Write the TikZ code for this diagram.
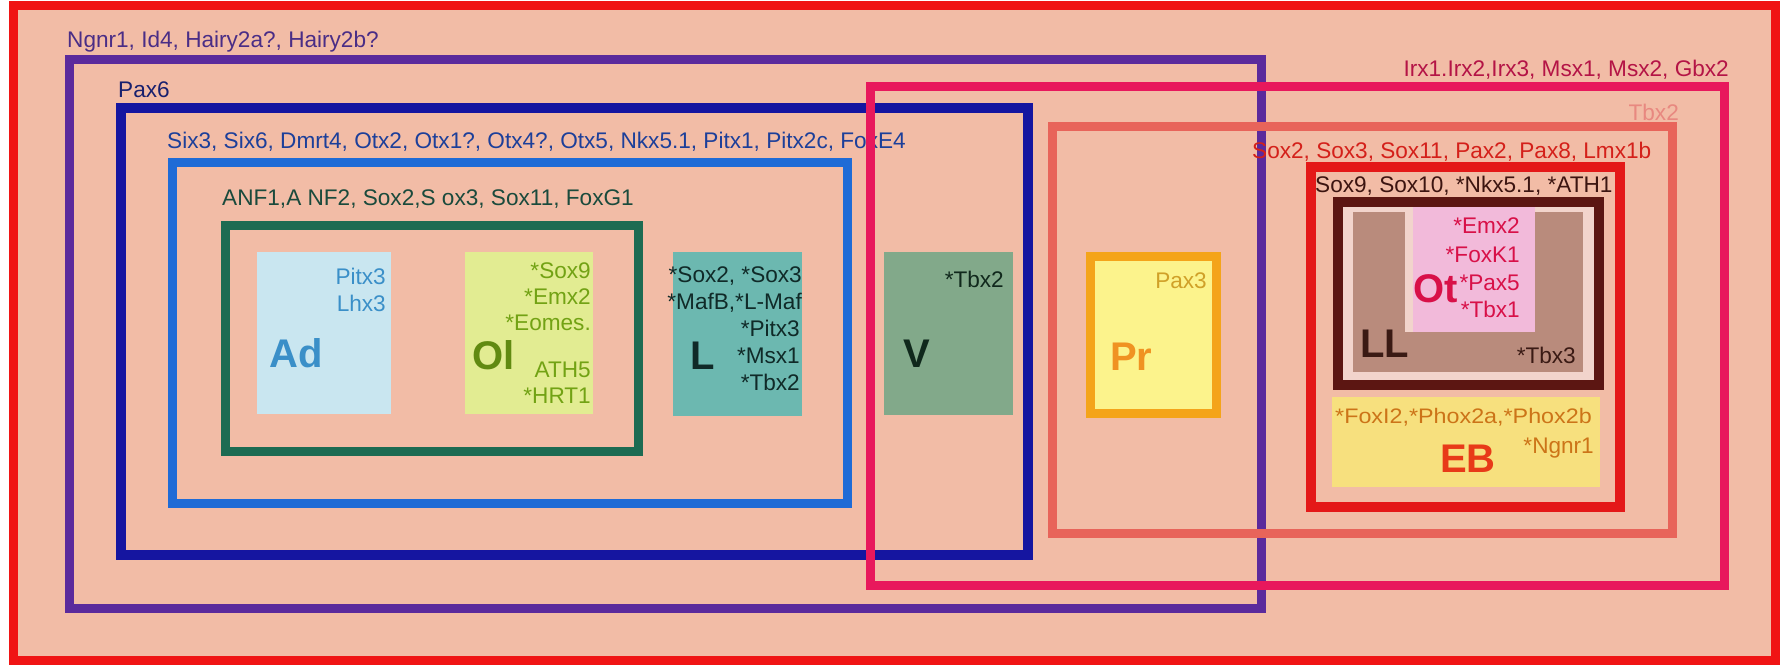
\documentclass[tikz,border=0pt]{standalone}
\usepackage{fontspec}
\setmainfont{Liberation Sans}
\newfontfamily\widefont[FakeStretch=1.11]{Liberation Sans}
\definecolor{bg}{HTML}{F2BCA6}
\definecolor{cred}{HTML}{F01414}
\definecolor{cpurple}{HTML}{5B2A9C}
\definecolor{cpax}{HTML}{1515A0}
\definecolor{csix}{HTML}{1F6BD6}
\definecolor{canf}{HTML}{1D6B52}
\definecolor{cirx}{HTML}{E8185C}
\definecolor{ctbx}{HTML}{E8645A}
\definecolor{csox}{HTML}{E41818}
\definecolor{cbrown}{HTML}{5C1612}
\definecolor{tpurple}{HTML}{4A2D86}
\definecolor{tpax}{HTML}{18206E}
\definecolor{tsix}{HTML}{1C3F9A}
\definecolor{tanf}{HTML}{1A4A3C}
\definecolor{tirx}{HTML}{B41446}
\definecolor{ttbx}{HTML}{E88880}
\definecolor{tsox}{HTML}{D4201A}
\definecolor{tsoxnine}{HTML}{3C1410}
\definecolor{adfill}{HTML}{C9E6F0}
\definecolor{adtext}{HTML}{3A8FC8}
\definecolor{olfill}{HTML}{E2EC92}
\definecolor{oltext}{HTML}{72A214}
\definecolor{lfill}{HTML}{6CB8B0}
\definecolor{ltext}{HTML}{102A28}
\definecolor{vfill}{HTML}{82A98A}
\definecolor{vtext}{HTML}{10281C}
\definecolor{prfill}{HTML}{FCF38C}
\definecolor{prborder}{HTML}{F4A41A}
\definecolor{prtext}{HTML}{F09222}
\definecolor{paxtext}{HTML}{D0A028}
\definecolor{llbg}{HTML}{F2D4CC}
\definecolor{llfill}{HTML}{B98B7C}
\definecolor{lltext}{HTML}{3A1A14}
\definecolor{otfill}{HTML}{F2BADA}
\definecolor{ottext}{HTML}{D81048}
\definecolor{ebfill}{HTML}{F7E07E}
\definecolor{ebsmall}{HTML}{CC7418}
\definecolor{ebtext}{HTML}{E83A18}
\tikzset{
  lbl/.style={inner sep=0pt, font=\fontsize{22.6}{26}\selectfont},
  big/.style={inner sep=0pt, font=\fontsize{40}{42}\selectfont\bfseries},
  frame/.style={line width=9pt},
}
\begin{document}
\begin{tikzpicture}[x=1pt,y=-1pt]
\useasboundingbox (0,0) rectangle (1786,665);
\fill[white] (0,0) rectangle (1786,665);
\fill[bg] (13,5) rectangle (1775,660);
% tissue fills
\fill[adfill] (257,252) rectangle (391,414);
\fill[olfill] (465,252) rectangle (593,414);
\fill[lfill] (673,252) rectangle (802,416);
\fill[vfill] (884,252) rectangle (1013,415);
% left nested frames
\draw[frame, cpurple] (69,59.5) rectangle (1261.5,608.5);
\draw[frame, cpax, line width=10pt] (121,108) rectangle (1028,555);
\draw[frame, csix] (172.5,162.5) rectangle (847,503);
\draw[frame, canf] (225.5,225.5) rectangle (638,451);
% left labels
\node[lbl, anchor=base west, text=tpurple] (lngnr) at (67,47) {Ngnr1, Id4, Hairy2a?, Hairy2b?};
\node[lbl, anchor=base west, text=tpax] (lpax) at (118,97) {Pax6};
\node[lbl, anchor=base west, text=tsix] (lsix) at (167,148) {Six3, Six6, Dmrt4, Otx2, Otx1?, Otx4?, Otx5, Nkx5.1, Pitx1, Pitx2c, FoxE4};
\node[lbl, anchor=base west, text=tanf] (lanf) at (222,205) {ANF1,A NF2, Sox2,S ox3, Sox11, FoxG1};
% Ad
\node[lbl, anchor=base east, text=adtext] (adA) at (386,284) {Pitx3};
\node[lbl, anchor=base east, text=adtext] (adB) at (386,311) {Lhx3};
\node[big, anchor=base west, text=adtext] (ad) at (269,367) {Ad};
% Ol
\node[lbl, anchor=base east, text=oltext] (olA) at (591,278) {*Sox9};
\node[lbl, anchor=base east, text=oltext] (olB) at (591,304) {*Emx2};
\node[lbl, anchor=base east, text=oltext] (olC) at (591,330) {*Eomes.};
\node[lbl, anchor=base east, text=oltext] (olD) at (591,377) {ATH5};
\node[lbl, anchor=base east, text=oltext] (olE) at (591,403) {*HRT1};
\node[big, anchor=base west, text=oltext!85!black] (ol) at (472,369) {Ol};
% L
\node[lbl, anchor=base east, text=ltext] (lA) at (802,282) {*Sox2, *Sox3};
\node[lbl, anchor=base east, text=ltext] (lB) at (802,309) {*MafB,*L-Maf};
\node[lbl, anchor=base east, text=ltext] (lC) at (800,336) {*Pitx3};
\node[lbl, anchor=base east, text=ltext] (lD) at (800,363) {*Msx1};
\node[lbl, anchor=base east, text=ltext] (lE) at (800,390) {*Tbx2};
\node[big, anchor=base west, text=ltext] (l) at (690,369) {L};
% V
\node[lbl, anchor=base east, text=vtext] (vA) at (1004,287) {*Tbx2};
\node[big, anchor=base west, text=vtext] (v) at (903,367) {V};
% right nested frames
\draw[frame, cirx] (870,86.5) rectangle (1724,585);
\draw[frame, ctbx] (1052.5,126.5) rectangle (1672.5,533);
\draw[frame, draw=prborder, fill=prfill] (1090.5,256.5) rectangle (1216.5,413.5);
\draw[frame, csox, line width=10pt] (1311,166.5) rectangle (1620,507);
\draw[cbrown, line width=10pt, fill=llbg] (1338,202) rectangle (1599,385);
\fill[llfill] (1353,212) rectangle (1583,372);
\fill[llbg] (1405,207) rectangle (1535,332);
\fill[otfill] (1413,207) rectangle (1535,332);
\fill[ebfill] (1332,397) rectangle (1600,487);
% right labels
\node[lbl, anchor=base east, text=tirx] (lirx) at (1729,76) {Irx1.Irx2,Irx3, Msx1, Msx2, Gbx2};
\node[lbl, anchor=base east, text=ttbx] (ltbx) at (1679,120) {Tbx2};
\node[lbl, anchor=base west, text=tsox] (lsox) at (1252,158) {Sox2, Sox3, Sox11, Pax2, Pax8, Lmx1b};
\node[lbl, anchor=base west, text=tsoxnine] (lsoxnine) at (1315,192) {Sox9, Sox10, *Nkx5.1, *ATH1};
% Pr
\node[lbl, anchor=base east, text=paxtext] (prA) at (1207,288) {Pax3};
\node[big, anchor=base west, text=prtext] (pr) at (1110,370) {Pr};
% Ot
\node[lbl, anchor=base east, text=ottext] (otA) at (1520,233) {*Emx2};
\node[lbl, anchor=base east, text=ottext] (otB) at (1520,262) {*FoxK1};
\node[lbl, anchor=base east, text=ottext] (otC) at (1520,290) {*Pax5};
\node[lbl, anchor=base east, text=ottext] (otD) at (1520,317) {*Tbx1};
\node[big, anchor=base west, text=ottext] (ot) at (1413,302) {Ot};
% LL
\node[big, anchor=base west, text=lltext] (ll) at (1360,357) {LL};
\node[lbl, anchor=base east, text=lltext] (llA) at (1576,363) {*Tbx3};
% EB
\node[inner sep=0pt, anchor=base west, text=ebsmall, font=\fontsize{21}{24}\widefont] (ebA) at (1335,423) {*FoxI2,*Phox2a,*Phox2b};
\node[lbl, anchor=base east, text=ebsmall] (ebB) at (1594,453) {*Ngnr1};
\node[big, anchor=base west, text=ebtext] (eb) at (1440,472) {EB};
% outer frame
\draw[cred, line width=9pt] (13.5,5) rectangle (1775.5,660);
\end{tikzpicture}
\end{document}
